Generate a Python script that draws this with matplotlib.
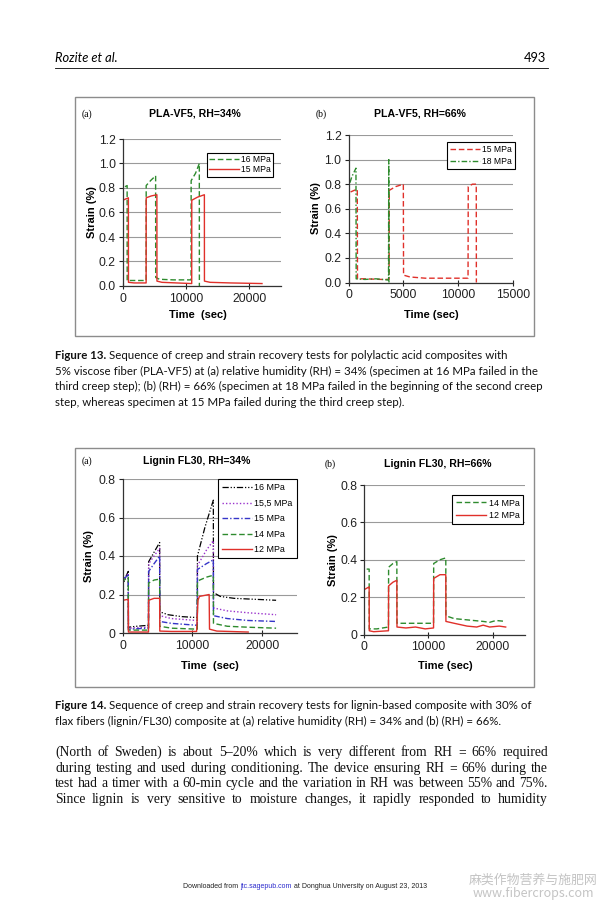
import matplotlib
matplotlib.use("Agg")
import matplotlib.pyplot as plt
from matplotlib.patches import Rectangle
from matplotlib.lines import Line2D

PAGE_W, PAGE_H = 603, 905

# ---- values (time in s, strain in %) ----
# Figure 13 (a) PLA-VF5, RH=34%
pla34_16_t = [0, 30, 350, 700, 710, 2000, 3700, 3710, 4400, 5200, 5210, 5800, 8000, 10800, 10810, 11500, 12100, 12110]
pla34_16_s = [0.0, 0.79, 0.81, 0.82, 0.045, 0.045, 0.045, 0.82, 0.86, 0.90, 0.07, 0.055, 0.05, 0.05, 0.86, 0.92, 1.00, 0.0]
pla34_15_t = [0, 30, 450, 900, 910, 1800, 3700, 3710, 4500, 5400, 5410, 6200, 8500, 10900, 10910, 11800, 12900, 12910, 13800, 17000, 22000]
pla34_15_s = [0.0, 0.70, 0.71, 0.72, 0.03, 0.025, 0.025, 0.72, 0.735, 0.745, 0.04, 0.03, 0.025, 0.02, 0.70, 0.725, 0.745, 0.04, 0.03, 0.025, 0.02]

# Figure 13 (b) PLA-VF5, RH=66%
pla66_15_t = [0, 30, 400, 800, 820, 1500, 3000, 3700, 3720, 4300, 5000, 5020, 5600, 7000, 10900, 10920, 11300, 11650, 11660]
pla66_15_s = [0.0, 0.73, 0.745, 0.76, 0.03, 0.03, 0.025, 0.025, 0.75, 0.78, 0.80, 0.06, 0.045, 0.035, 0.035, 0.78, 0.80, 0.80, 0.0]
pla66_18_t = [0, 20, 300, 680, 700, 1500, 2500, 3650, 3670, 3690]
pla66_18_s = [0.0, 0.78, 0.86, 0.93, 0.03, 0.025, 0.03, 0.02, 1.00, 0.0]

# Figure 14 (a) Lignin FL30, RH=34%
lig34_16_t = [0, 30, 400, 800, 820, 2000, 3700, 3720, 4500, 5300, 5320, 6500, 8500, 10700, 10720, 11800, 13000, 13020, 14000, 16000, 19000, 22000]
lig34_16_s = [0.0, 0.25, 0.29, 0.32, 0.03, 0.035, 0.04, 0.37, 0.42, 0.47, 0.11, 0.095, 0.085, 0.08, 0.40, 0.55, 0.69, 0.21, 0.19, 0.18, 0.175, 0.17]
lig34_155_t = [0, 30, 800, 820, 3700, 3720, 4500, 5300, 5320, 7000, 10700, 10720, 12000, 13000, 13020, 15000, 18000, 22000]
lig34_155_s = [0.0, 0.27, 0.31, 0.025, 0.03, 0.36, 0.40, 0.44, 0.09, 0.075, 0.065, 0.35, 0.43, 0.48, 0.13, 0.115, 0.105, 0.095]
lig34_15_t = [0, 30, 800, 820, 3700, 3720, 4500, 5300, 5320, 7000, 10700, 10720, 12000, 13000, 13020, 15000, 18000, 22000]
lig34_15_s = [0.0, 0.28, 0.30, 0.02, 0.025, 0.32, 0.36, 0.40, 0.06, 0.05, 0.04, 0.33, 0.36, 0.38, 0.09, 0.075, 0.065, 0.06]
lig34_14_t = [0, 30, 800, 820, 3700, 3720, 4500, 5300, 5320, 7000, 10700, 10720, 12000, 13000, 13020, 15000, 18000, 22000]
lig34_14_s = [0.0, 0.27, 0.29, 0.015, 0.015, 0.26, 0.275, 0.28, 0.035, 0.025, 0.02, 0.27, 0.29, 0.30, 0.05, 0.035, 0.03, 0.025]
lig34_12_t = [0, 30, 800, 820, 3700, 3720, 4500, 5300, 5320, 7000, 10600, 10800, 11000, 12400, 12450, 13500, 18000]
lig34_12_s = [0.0, 0.17, 0.175, 0.005, 0.005, 0.17, 0.18, 0.18, 0.01, 0.008, 0.008, 0.17, 0.19, 0.20, 0.02, 0.01, 0.005]

# Figure 14 (b) Lignin FL30, RH=66%
lig66_14_t = [0, 30, 400, 800, 820, 2000, 3800, 3820, 4500, 5100, 5120, 6000, 8000, 10800, 10820, 11800, 12700, 12720, 14000, 15500, 17000, 18500, 19500, 20500, 22000]
lig66_14_s = [0.0, 0.34, 0.35, 0.35, 0.03, 0.03, 0.04, 0.36, 0.38, 0.39, 0.06, 0.06, 0.06, 0.06, 0.38, 0.40, 0.41, 0.10, 0.085, 0.08, 0.075, 0.07, 0.065, 0.075, 0.07]
lig66_12_t = [0, 30, 800, 820, 1500, 3800, 3820, 4500, 5100, 5120, 6500, 8000, 9500, 10800, 10820, 11800, 12700, 12720, 14000, 16000, 17500, 18500, 19500, 21000, 22000]
lig66_12_s = [0.0, 0.24, 0.255, 0.02, 0.015, 0.02, 0.26, 0.28, 0.29, 0.04, 0.035, 0.04, 0.03, 0.035, 0.30, 0.32, 0.32, 0.07, 0.06, 0.045, 0.04, 0.05, 0.04, 0.045, 0.04]

# ---- page text ----
cap13 = [
    [("Figure 13.", "bold"), ("Sequence of creep and strain recovery tests for polylactic acid composites with", "normal")],
    [("5% viscose fiber (PLA-VF5) at (a) relative humidity (RH) = 34% (specimen at 16 MPa failed in the", "normal")],
    [("third creep step); (b) (RH) = 66% (specimen at 18 MPa failed in the beginning of the second creep", "normal")],
    [("step, whereas specimen at 15 MPa failed during the third creep step).", "normal")],
]
cap14 = [
    [("Figure 14.", "bold"), ("Sequence of creep and strain recovery tests for lignin-based composite with 30% of", "normal")],
    [("flax fibers (lignin/FL30) composite at (a) relative humidity (RH) = 34% and (b) (RH) = 66%.", "normal")],
]
body = [
    "(North of Sweden) is about 5\u201320% which is very different from RH = 66% required",
    "during testing and used during conditioning. The device ensuring RH = 66% during the",
    "test had a timer with a 60-min cycle and the variation in RH was between 55% and 75%.",
    "Since lignin is very sensitive to moisture changes, it rapidly responded to humidity",
]

plt.rcParams["font.family"] = "Liberation Sans"

fig = plt.figure(figsize=(PAGE_W / 100, PAGE_H / 100), dpi=100)
fig.patch.set_facecolor("white")
renderer = fig.canvas.get_renderer()


def fx(px):
    return px / PAGE_W


def fy(py):
    return 1 - py / PAGE_H


def panel(left, top, right, bottom):
    return fig.add_axes([fx(left), fy(bottom), (right - left) / PAGE_W, (bottom - top) / PAGE_H])


def frame(left, top, right, bottom):
    fig.add_artist(Rectangle((fx(left), fy(bottom)), (right - left) / PAGE_W, (bottom - top) / PAGE_H,
                             transform=fig.transFigure, fill=False, ec="#8c8c8c", lw=1.0))


def style(ax, xmax, xticks, ymax, yticks, ylabels):
    ax.set_xlim(0, xmax)
    ax.set_ylim(0, ymax)
    ax.set_xticks(xticks)
    ax.set_xticklabels([str(v) for v in xticks])
    ax.set_yticks(yticks)
    ax.set_yticklabels(ylabels)
    ax.grid(axis="y", color="#9a9a9a", lw=0.8)
    ax.set_axisbelow(True)
    for s in ["top", "right"]:
        ax.spines[s].set_visible(False)
    for s in ["left", "bottom"]:
        ax.spines[s].set_color("#333333")
        ax.spines[s].set_linewidth(0.9)
    ax.tick_params(axis="x", direction="inout", length=4, labelsize=8.7, pad=3, colors="#222222")
    ax.tick_params(axis="y", direction="out", length=3, labelsize=8.7, pad=2, colors="#222222")


def legend(ax, right, top, size=6.2, **kw):
    leg = ax.legend(loc="upper right", bbox_to_anchor=(fx(right), fy(top)), bbox_transform=fig.transFigure,
                    frameon=True, fancybox=False, framealpha=1, edgecolor="black", fontsize=size,
                    borderaxespad=0, handletextpad=0.3, **kw)
    leg.get_frame().set_linewidth(0.8)


def label(x, y, s, **kw):
    fig.text(fx(x), fy(y), s, ha="center", va="center", **kw)


RED = "#e0302a"
GREEN = "#2e8b2e"
BLUE = "#3535c8"
PURPLE = "#9a33cc"

# ---------- Figure 13 ----------
frame(75, 97, 534, 336)

ax = panel(122.7, 139, 281, 286)
ax.plot(pla34_16_t, pla34_16_s, color=GREEN, lw=1, dashes=(4, 2), label="16 MPa")
ax.plot(pla34_15_t, pla34_15_s, color=RED, lw=1, label="15 MPa")
style(ax, 25000, [0, 10000, 20000], 1.2, [0, 0.2, 0.4, 0.6, 0.8, 1.0, 1.2],
      ["0.0", "0.2", "0.4", "0.6", "0.8", "1.0", "1.2"])
legend(ax, 273, 153, handlelength=3.4, borderpad=0.25, labelspacing=0.15)
label(195, 114, "PLA-VF5, RH=34%", fontsize=7.6, fontweight="bold")
label(87, 114, "(a)", fontsize=7, family="Liberation Serif")
label(92, 212, "Strain (%)", fontsize=8, fontweight="bold", rotation=90)
label(198, 315, "Time  (sec)", fontsize=8, fontweight="bold")

ax = panel(348.5, 135, 513, 282.5)
ax.plot(pla66_15_t, pla66_15_s, color=RED, lw=1, dashes=(4, 2), label="15 MPa")
ax.plot(pla66_18_t, pla66_18_s, color=GREEN, lw=1, dashes=(4, 1.5, 1, 1.5), label="18 MPa")
style(ax, 15000, [0, 5000, 10000, 15000], 1.2, [0, 0.2, 0.4, 0.6, 0.8, 1.0, 1.2],
      ["0.0", "0.2", "0.4", "0.6", "0.8", "1.0", "1.2"])
legend(ax, 515, 142, handlelength=3.4, borderpad=0.35, labelspacing=0.35)
label(420, 114, "PLA-VF5, RH=66%", fontsize=7.6, fontweight="bold")
label(321, 114, "(b)", fontsize=7, family="Liberation Serif")
label(316, 208, "Strain (%)", fontsize=8, fontweight="bold", rotation=90)
label(431, 315, "Time (sec)", fontsize=8, fontweight="bold")

# ---------- Figure 14 ----------
frame(75, 448, 534, 687)

ax = panel(122.7, 479, 297, 633)
ax.plot(lig34_16_t, lig34_16_s, color="black", lw=0.9, dashes=(5, 1.5, 1, 1.5, 1, 1.5), label="16 MPa")
ax.plot(lig34_155_t, lig34_155_s, color=PURPLE, lw=1, dashes=(1, 1.5), label="15,5 MPa")
ax.plot(lig34_15_t, lig34_15_s, color=BLUE, lw=1, dashes=(4, 1.5, 1, 1.5), label="15 MPa")
ax.plot(lig34_14_t, lig34_14_s, color=GREEN, lw=1, dashes=(4, 2), label="14 MPa")
ax.plot(lig34_12_t, lig34_12_s, color=RED, lw=1, label="12 MPa")
style(ax, 25000, [0, 10000, 20000], 0.8, [0, 0.2, 0.4, 0.6, 0.8], ["0", "0.2", "0.4", "0.6", "0.8"])
legend(ax, 297, 479, size=6.4, handlelength=3.3, borderpad=0.5, labelspacing=0.72)
label(197, 461, "Lignin FL30, RH=34%", fontsize=7.6, fontweight="bold")
label(87, 461, "(a)", fontsize=7, family="Liberation Serif")
label(89, 556, "Strain (%)", fontsize=8, fontweight="bold", rotation=90)
label(210, 666, "Time  (sec)", fontsize=8, fontweight="bold")

ax = panel(364, 485, 525, 634.5)
ax.plot(lig66_14_t, lig66_14_s, color=GREEN, lw=1, dashes=(4, 2), label="14 MPa")
ax.plot(lig66_12_t, lig66_12_s, color=RED, lw=1, label="12 MPa")
style(ax, 25000, [0, 10000, 20000], 0.8, [0, 0.2, 0.4, 0.6, 0.8], ["0", "0.2", "0.4", "0.6", "0.8"])
legend(ax, 523, 495, size=6.4, handlelength=3.4, borderpad=0.4, labelspacing=0.4)
label(438, 464, "Lignin FL30, RH=66%", fontsize=7.6, fontweight="bold")
label(330, 464, "(b)", fontsize=7, family="Liberation Serif")
label(333, 560, "Strain (%)", fontsize=8, fontweight="bold", rotation=90)
label(445, 666, "Time (sec)", fontsize=8, fontweight="bold")


# ---------- running text ----------
def width(s, **kw):
    t = fig.text(0, 0, s, **kw)
    w = t.get_window_extent(renderer).width
    t.remove()
    return w


def pieces(x, y, parts, **kw):
    gap = width("a a", **kw) - width("aa", **kw)
    for s, extra in parts:
        opts = dict(kw)
        opts.update(extra)
        fig.text(fx(x), fy(y), s, ha="left", va="baseline", **opts)
        x += width(s, **opts) + gap


def justified(line, y, left, right, **kw):
    words = line.split(" ")
    ws = [width(w, **kw) for w in words]
    gap = (right - left - sum(ws)) / (len(words) - 1)
    x = left
    for w, wd in zip(words, ws):
        fig.text(fx(x), fy(y), w, ha="left", va="baseline", **kw)
        x += wd + gap


# header
fig.text(fx(55), fy(62), "Rozite et al.", ha="left", va="baseline", family="Lato", style="italic", fontsize=9.3)
fig.text(fx(546), fy(62), "493", ha="right", va="baseline", family="Lato", fontsize=9.3)
fig.add_artist(Line2D([fx(55), fx(548)], [fy(68), fy(68)], transform=fig.transFigure, color="black", lw=0.6))

# captions, sized so the longest line spans the text block
cap_kw = dict(family="Lato", color="#111111")
longest = max(width(line[-1][0], fontsize=10, **cap_kw) for line in cap13 + cap14)
cap_size = 10 * 490 / longest
for i, line in enumerate(cap13):
    pieces(55, 359 + i * 15.6, [(s, {"fontweight": w}) for s, w in line], fontsize=cap_size, **cap_kw)
for i, line in enumerate(cap14):
    pieces(55, 709 + i * 15.6, [(s, {"fontweight": w}) for s, w in line], fontsize=cap_size, **cap_kw)

# body paragraph, justified
body_kw = dict(family="Liberation Serif", color="#111111")
body_size = 10 * 484 / width(body[2], fontsize=10, **body_kw)
for i, line in enumerate(body):
    justified(line, 756 + i * 15.7, 55, 548, fontsize=body_size, **body_kw)

# footer and watermark
pieces(183, 888, [("Downloaded from", {}), ("jtc.sagepub.com", {"color": "#2a2acc"}),
                  ("at Donghua University on August 23, 2013", {})],
       family="Liberation Sans", fontsize=5.0, color="#222222")
label(533, 880, "\u9ebb\u7c7b\u4f5c\u7269\u8425\u517b\u4e0e\u65bd\u80a5\u7f51", family="Noto Sans CJK SC",
      fontsize=9.3, color="#c4c4c4")
label(533, 893, "www.fibercrops.com", family="Noto Sans CJK SC", fontsize=9.0, color="#c4c4c4")

fig.savefig("out.png", dpi=100)
